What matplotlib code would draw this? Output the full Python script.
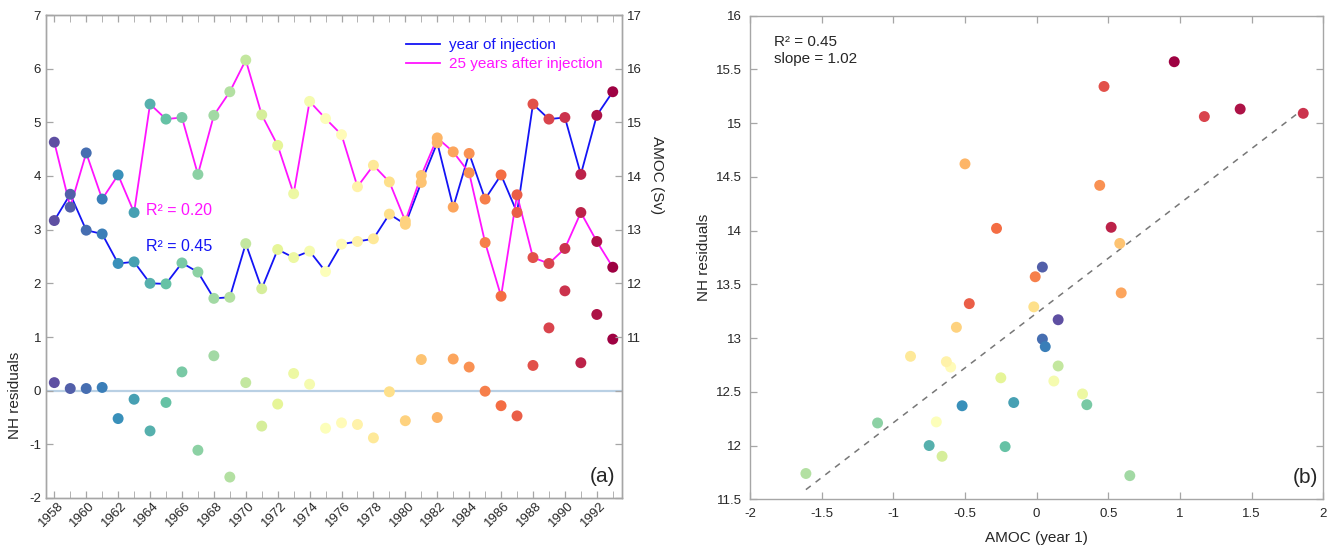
import numpy as np
import matplotlib
matplotlib.use("Agg")
import matplotlib.pyplot as plt
from matplotlib.lines import Line2D
from matplotlib.transforms import ScaledTranslation

plt.rcParams['font.family'] = ['Liberation Sans', 'DejaVu Sans']
plt.rcParams['axes.unicode_minus'] = False

# ---- data -------------------------------------------------------------
years = list(range(1958, 1994))

# AMOC (Sv) in the year of injection
amoc_injection = [13.17, 13.66, 12.99, 12.92, 12.37, 12.40, 12.00, 11.99, 12.38,
                  12.21, 11.72, 11.74, 12.74, 11.90, 12.63, 12.48, 12.60, 12.22,
                  12.73, 12.78, 12.83, 13.29, 13.10, 13.88, 14.62, 13.42, 14.42,
                  13.57, 14.02, 13.32, 15.34, 15.06, 15.09, 14.03, 15.13, 15.57]

# AMOC (Sv) 25 years after injection
amoc_after = [14.63, 13.42, 14.43, 13.57, 14.02, 13.32, 15.34, 15.06, 15.09,
              14.03, 15.13, 15.57, 16.16, 15.14, 14.57, 13.67, 15.39, 15.07,
              14.77, 13.80, 14.20, 13.89, 13.16, 14.01, 14.71, 14.45, 14.06,
              12.76, 11.76, 13.65, 12.48, 12.37, 12.65, 13.32, 12.78, 12.30]

# NH residuals
nh_residuals = [0.15, 0.04, 0.04, 0.06, -0.52, -0.16, -0.75, -0.22, 0.35,
                -1.11, 0.65, -1.61, 0.15, -0.66, -0.25, 0.32, 0.12, -0.70,
                -0.60, -0.63, -0.88, -0.02, -0.56, 0.58, -0.50, 0.59, 0.44,
                -0.01, -0.28, -0.47, 0.47, 1.17, 1.86, 0.52, 1.42, 0.96]

r2_injection = 0.45
r2_after = 0.20
fit_slope = 1.02

left_ticks = list(range(-2, 8))
right_ticks = list(range(8, 18))
right_ticklabels = ['', '', ''] + [str(v) for v in range(11, 18)]
year_ticks = years[::2]

# ---- styling ----------------------------------------------------------
SPINE = '#a6a6a6'
TXT = '#262626'
BLUE = '#1414f5'
MAGENTA = '#ff14ff'
MS = 62

yrs = np.array(years)
cmap = plt.get_cmap('Spectral_r')
colors = cmap((yrs - yrs.min()) / (yrs.max() - yrs.min()))

fig = plt.figure(figsize=(13.35, 5.47), dpi=100)

def style(ax):
    for s in ax.spines.values():
        s.set_color(SPINE)
        s.set_linewidth(1.0)
    ax.tick_params(colors=SPINE, labelcolor=TXT, direction='in',
                   length=5, width=0.9, labelsize=9.5)

# ---- panel (a) --------------------------------------------------------
ax = fig.add_axes([46 / 1335, 49 / 547, 575.7 / 1335, 483 / 547])
ax2 = ax.twinx()
style(ax)
style(ax2)

ax.set_xlim(1957.48, 1993.56)
ax.set_ylim(-2, 7)
ax.set_yticks(left_ticks)
ax.set_xticks(years, minor=True)
ax.set_xticks(year_ticks)
ax.set_xticklabels([str(y) for y in year_ticks], rotation=45, ha='right',
                   va='center', rotation_mode='anchor')
ax.tick_params(axis='x', which='both', top=True, bottom=True, direction='in',
               length=5, colors=SPINE, labelcolor=TXT, pad=4)
ax.tick_params(axis='y', right=False)
shift = ScaledTranslation(7 / 100, 0, fig.dpi_scale_trans)
for lab in ax.get_xticklabels():
    lab.set_transform(lab.get_transform() + shift)

ax.axhline(0, color='#b9d0e4', lw=1.6, zorder=1)
ax.scatter(yrs, nh_residuals, s=MS, c=colors, edgecolors='none', zorder=3)

ax2.set_ylim(8, 17)
ax2.set_yticks(right_ticks)
ax2.set_yticklabels(right_ticklabels)
ax2.plot(yrs, amoc_injection, color=BLUE, lw=1.3, zorder=2)
ax2.plot(yrs, amoc_after, color=MAGENTA, lw=1.3, zorder=2)
ax2.scatter(yrs, amoc_injection, s=MS, c=colors, edgecolors='none', zorder=3)
ax2.scatter(yrs, amoc_after, s=MS, c=colors, edgecolors='none', zorder=3)

ax.set_ylabel('NH residuals', fontsize=11, color=TXT)
ax.yaxis.set_label_coords(-0.042, 0.213)
ax2.set_ylabel('AMOC (Sv)', fontsize=11, color=TXT, rotation=270, va='bottom')
ax2.yaxis.set_label_coords(1.049, 0.669)

handles = [Line2D([], [], color=BLUE, lw=1.3),
           Line2D([], [], color=MAGENTA, lw=1.3)]
ax2.legend(handles, ['year of injection', '25 years after injection'],
           loc='upper left', bbox_to_anchor=(0.615, 0.965), frameon=False,
           fontsize=11, handlelength=2.2, handletextpad=0.6,
           labelspacing=0.35, borderaxespad=0, labelcolor=[BLUE, MAGENTA])

ax.text(0.174, 0.596, f'R\u00b2 = {r2_after:.2f}', transform=ax.transAxes,
        color=MAGENTA, fontsize=11.5, va='center', ha='left')
ax.text(0.174, 0.52, f'R\u00b2 = {r2_injection:.2f}', transform=ax.transAxes,
        color=BLUE, fontsize=11.5, va='center', ha='left')
ax.text(0.988, 0.045, '(a)', transform=ax.transAxes, fontsize=15,
        ha='right', va='center', color=TXT)

# ---- panel (b) --------------------------------------------------------
bx = fig.add_axes([750 / 1335, 47.7 / 547, 573.3 / 1335, 483.8 / 547])
style(bx)
bx.set_xlim(-2, 2)
bx.set_ylim(11.5, 16)
bx.set_xticks(np.arange(-2, 2.01, 0.5))
bx.set_yticks(np.arange(11.5, 16.01, 0.5))
bx.set_xticklabels(['-2', '-1.5', '-1', '-0.5', '0', '0.5', '1', '1.5', '2'])
bx.set_yticklabels(['11.5', '12', '12.5', '13', '13.5', '14', '14.5', '15',
                    '15.5', '16'])
bx.tick_params(top=True, right=True, pad=6)

res = np.array(nh_residuals)
amoc = np.array(amoc_injection)
intercept = amoc.mean() - fit_slope * res.mean()
xfit = np.array([res.min(), res.max()])
bx.plot(xfit, intercept + fit_slope * xfit, ls=(0, (4, 4)), color='#777777',
        lw=1.1, zorder=2)
bx.scatter(res, amoc, s=MS, c=colors, edgecolors='none', zorder=3)

bx.set_xlabel('AMOC (year 1)', fontsize=11, color=TXT, labelpad=8)
bx.set_ylabel('NH residuals', fontsize=11, color=TXT)
bx.yaxis.set_label_coords(-0.068, 0.5)
bx.text(0.042, 0.96, f'R\u00b2 = {r2_injection:.2f}\nslope = {fit_slope:.2f}',
        transform=bx.transAxes, fontsize=11, va='top', ha='left', color=TXT,
        linespacing=1.25)
bx.text(0.991, 0.046, '(b)', transform=bx.transAxes, fontsize=15,
        ha='right', va='center', color=TXT)

fig.savefig('out.png', dpi=100)
